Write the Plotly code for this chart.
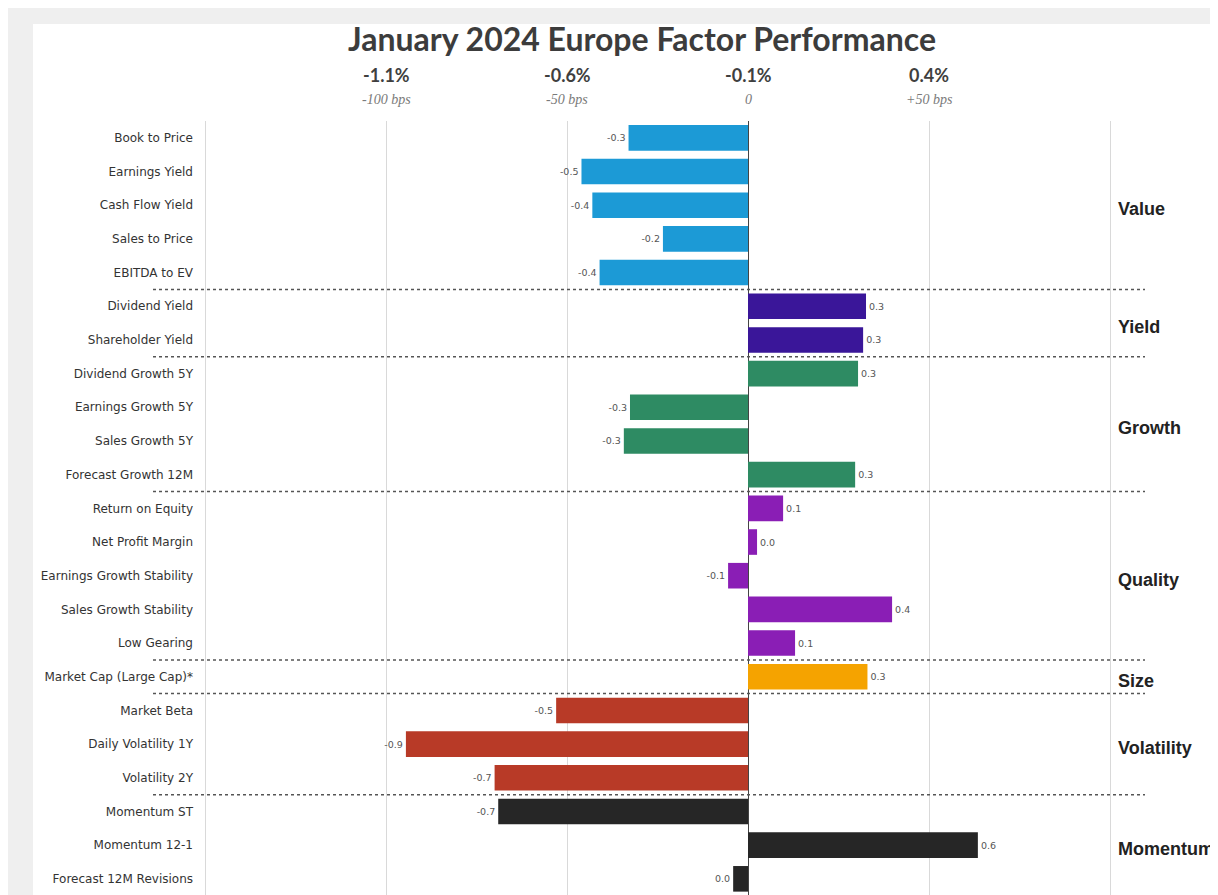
import plotly.graph_objects as go

# ---------------- data ----------------
factors = [
    "Book to Price", "Earnings Yield", "Cash Flow Yield", "Sales to Price", "EBITDA to EV",
    "Dividend Yield", "Shareholder Yield",
    "Dividend Growth 5Y", "Earnings Growth 5Y", "Sales Growth 5Y", "Forecast Growth 12M",
    "Return on Equity", "Net Profit Margin", "Earnings Growth Stability", "Sales Growth Stability", "Low Gearing",
    "Market Cap (Large Cap)*",
    "Market Beta", "Daily Volatility 1Y", "Volatility 2Y",
    "Momentum ST", "Momentum 12-1", "Forecast 12M Revisions",
]
# relative performance in % (0.5 = +50 bps)
values = [
    -0.33, -0.46, -0.43, -0.235, -0.41,
    0.326, 0.318,
    0.304, -0.326, -0.343, 0.296,
    0.097, 0.025, -0.055, 0.398, 0.13,
    0.33,
    -0.53, -0.945, -0.70,
    -0.69, 0.635, -0.041,
]
groups = ["Value", "Yield", "Growth", "Quality", "Size", "Volatility", "Momentum"]
group_sizes = [5, 2, 4, 5, 1, 3, 3]
group_colors = ["#1C9AD6", "#3A1699", "#2E8B63", "#8A1EB5", "#F5A300", "#B83A27", "#262626"]

grid_vals = [-1.5, -1.0, -0.5, 0.0, 0.5, 1.0]
top_tick_vals = [-1.0, -0.5, 0.0, 0.5]
top_tick_pct = ["-1.1%", "-0.6%", "-0.1%", "0.4%"]
top_tick_bps = ["-100 bps", "-50 bps", "0", "+50 bps"]

title_text = "January 2024 Europe Factor Performance"

# ---------------- figure ----------------
# page body adds an 8px offset; work in screenshot pixels and subtract it
OFF = 8
W, H = 1218, 895
plot_left, plot_right, plot_top, plot_bottom = 203, 1112, 121, 895
L = plot_left - OFF
R = W - (plot_right - OFF)
T = plot_top - OFF
B = H - (plot_bottom - OFF)
pw = plot_right - plot_left
ph = plot_bottom - plot_top


def px_x(px):
    return (px - plot_left) / pw


def px_y(py):
    return (plot_bottom - py) / ph


zero_px, px_per_unit = 748, 362.0

bar_colors = []
for g, n in enumerate(group_sizes):
    bar_colors += [group_colors[g]] * n

fig = go.Figure()
fig.add_trace(go.Bar(
    x=values,
    y=factors,
    orientation="h",
    width=0.76,
    marker=dict(color=bar_colors, line=dict(width=0)),
    texttemplate="%{x:.1f}",
    textposition="outside",
    textfont=dict(family="DejaVu Sans", size=9.5, color="#555555"),
    cliponaxis=False,
    showlegend=False,
))

shapes = [
    # grey frame around the white card
    dict(type="rect", xref="paper", yref="paper", x0=px_x(0), x1=px_x(W + 20), y0=px_y(H + 20), y1=px_y(7),
         fillcolor="#EFEFEF", line=dict(width=0), layer="below"),
    dict(type="rect", xref="paper", yref="paper", x0=px_x(33), x1=px_x(W + 20), y0=px_y(H + 20), y1=px_y(24),
         fillcolor="#FFFFFF", line=dict(width=0), layer="below"),
]

annotations = []
start = 0
for g, n in enumerate(group_sizes):
    end = start + n
    if end < len(factors):
        shapes.append(dict(type="line", xref="paper", yref="y",
                           x0=px_x(153), x1=px_x(1145), y0=end - 0.5, y1=end - 0.5,
                           line=dict(color="#555555", width=1.5, dash="dot")))
    annotations.append(dict(text="<b>" + groups[g] + "</b>", xref="paper", yref="y",
                            x=px_x(1116), y=(start + end - 1) / 2 + 0.12, xanchor="left", yanchor="middle",
                            showarrow=False,
                            font=dict(family="Liberation Sans, Arial", size=18, color="#222222")))
    start = end

for v, p, b in zip(top_tick_vals, top_tick_pct, top_tick_bps):
    annotations.append(dict(text="<b>" + p + "</b>", xref="x", yref="paper", x=v, y=px_y(75),
                            xanchor="center", yanchor="middle", showarrow=False,
                            font=dict(family="Lato, Open Sans", size=18, color="#3F3F3F")))
    annotations.append(dict(text="<i>" + b + "</i>", xref="x", yref="paper", x=v, y=px_y(100),
                            xanchor="center", yanchor="middle", showarrow=False,
                            font=dict(family="Liberation Serif, serif", size=14, color="#7A7A7A")))

fig.update_layout(
    width=W, height=H,
    margin=dict(l=L, r=R, t=T, b=B, pad=0),
    paper_bgcolor="#FFFFFF",
    plot_bgcolor="rgba(0,0,0,0)",
    title=dict(text="<b>" + title_text + "</b>", x=(642 - OFF) / W, xanchor="center",
               y=1 - (40 - OFF) / H, yanchor="middle",
               font=dict(family="Lato, Open Sans", size=32, color="#3C3C3C")),
    xaxis=dict(
        range=[(plot_left - zero_px) / px_per_unit, (plot_right - zero_px) / px_per_unit],
        side="top",
        tickvals=grid_vals,
        showticklabels=False,
        ticks="",
        showgrid=True, gridcolor="#D9D9D9", gridwidth=1,
        zeroline=True, zerolinecolor="#444444", zerolinewidth=1,
        showline=False,
        fixedrange=True,
    ),
    yaxis=dict(
        type="category",
        range=[22.48, -0.5],
        ticks="",
        ticklabelstandoff=9,
        tickfont=dict(family="DejaVu Sans", size=12, color="#333333"),
        showgrid=False, zeroline=False, showline=False,
        fixedrange=True,
    ),
    shapes=shapes,
    annotations=annotations,
    bargap=0.24,
)

fig.write_html("out.html")
